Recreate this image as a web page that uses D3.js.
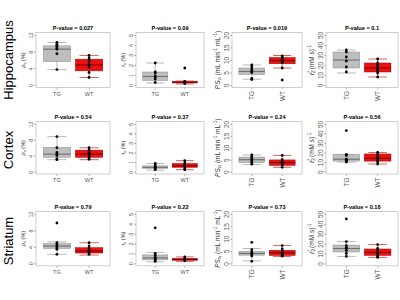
<!DOCTYPE html>
<html>
<head>
<meta charset="utf-8">
<script src="https://cdn.jsdelivr.net/npm/d3@7"></script>
<style>
  body { margin: 0; background: #fff; }
  text { font-family: "Liberation Sans", Arial, sans-serif; }
</style>
</head>
<body>
<svg id="chart"></svg>
<script>
let width = 400;
let height = 300;

const regions = ["Hippocampus", "Cortex", "Striatum"];
const groups = ["TG", "WT"];
const pValues = [
    ["0.027", "0.09", "0.019", "0.1"],
    ["0.54", "0.37", "0.24", "0.56"],
    ["0.79", "0.22", "0.73", "0.18"]
];
const yMax = [12, 5, 20, 50];
const yTicks = [[0, 4, 8, 12], [0, 1, 2, 3, 4, 5], [0, 5, 10, 15, 20], [0, 10, 20, 30, 40, 50]];

// box stats per panel: [lower whisker, q1, median, q3, upper whisker]
const tgBoxes = [
    [[3.7, 5.6, 8.6, 9.4, 10.2], [0.2, 0.45, 0.85, 1.3, 2.2], [2.3, 4.2, 5.4, 6.8, 8.0], [12, 17, 25, 33, 35]],
    [[3.0, 3.6, 4.4, 6.1, 8.8], [0.15, 0.35, 0.45, 0.6, 0.85], [3.0, 3.8, 5.0, 6.1, 7.0], [10, 11, 13, 18, 18]],
    [[2.2, 3.6, 4.2, 4.8, 5.2], [0.15, 0.35, 0.55, 0.85, 1.1], [1.0, 3.3, 4.0, 4.8, 6.0], [7, 11.5, 15, 18.5, 22]]
];
const wtBoxes = [
    [[1.8, 3.4, 4.8, 6.2, 7.1], [0.1, 0.2, 0.28, 0.35, 0.4], [6.8, 8.5, 9.8, 11.0, 11.8], [8, 13, 17, 22, 26]],
    [[3.0, 3.6, 4.4, 5.4, 6.0], [0.2, 0.45, 0.6, 0.85, 1.15], [1.8, 2.6, 3.8, 4.9, 6.8], [8, 11, 14, 18.5, 20]],
    [[2.0, 2.5, 3.0, 3.8, 5.0], [0.2, 0.3, 0.4, 0.5, 0.65], [2.8, 3.2, 4.3, 5.3, 7.2], [6, 8, 11, 14.5, 19]]
];
const tgPoints = [
    [[10.2, 9.8, 9.5, 9.2, 8.9, 8.6, 7.5, 3.7], [2.2, 1.3, 1.2, 0.9, 0.8, 0.6, 0.25], [8.0, 7.2, 6.2, 5.6, 5.0, 2.6, 2.2], [35, 33, 28, 24, 18, 13]],
    [[8.8, 6.0, 4.8, 4.3, 4.0, 3.2, 3.0], [0.85, 0.7, 0.5, 0.45, 0.4, 0.3, 0.2], [7.0, 6.3, 5.5, 5.0, 4.5, 3.8, 3.1], [43, 18, 17, 13, 12, 11, 10]],
    [[9.8, 5.0, 4.6, 4.2, 3.8, 3.4, 2.2], [3.6, 1.0, 0.8, 0.6, 0.5, 0.35, 0.2], [8.5, 5.5, 4.6, 4.1, 3.6, 3.0, 0.8], [45, 22, 18, 16, 15, 13, 10, 7]]
];
const wtPoints = [
    [[7.1, 6.5, 6.0, 5.5, 4.8, 4.2, 3.0, 1.8], [1.7, 0.35, 0.3, 0.25, 0.2, 0.15], [11.6, 11.0, 10.5, 10.0, 9.4, 9.0, 6.8, 2.0], [26, 22, 20, 18, 16, 14, 12, 8]],
    [[6.0, 5.4, 4.8, 4.4, 4.0, 3.5, 3.1], [1.15, 0.9, 0.7, 0.6, 0.5, 0.3, 0.2], [6.8, 5.0, 4.2, 3.8, 3.2, 2.8, 1.8], [20, 18, 16, 14, 12, 10, 8]],
    [[5.0, 4.2, 3.6, 3.0, 2.6, 2.2], [0.65, 0.5, 0.4, 0.35, 0.25], [7.2, 5.8, 5.0, 4.4, 3.9, 3.2, 2.9], [19, 15, 13, 11, 9, 7, 6]]
];

// layout of the panels
let colX = [[36, 110], [136, 204], [232, 302], [326, 398]];
let rowY = [[32.5, 87.5], [121.5, 174], [211.5, 265.8]];
let rowLabelY = [60, 150, 241];
let tickFont = [5.5, 5.5, 6.5, 6.5];

let svg = d3.select("#chart")
    .attr("width", width)
    .attr("height", height);

let fills = { TG: "#bebebe", WT: "#ec1010" };
let lines = { TG: "#8c8c8c", WT: "#b00000" };
let medians = { TG: "#6e6e6e", WT: "#7a0000" };

regions.forEach((region, r) => {
    svg.append("text")
        .attr("transform", `translate(13,${rowLabelY[r]}) rotate(-90)`)
        .attr("text-anchor", "middle")
        .attr("font-size", 13)
        .text(region);

    for (let c = 0; c < 4; c++) {
        drawPanel(r, c);
    }
});

function drawPanel(r, c) {
    let [x0, x1] = colX[c];
    let [y0, y1] = rowY[r];
    let x = d3.scalePoint().domain(groups).range([x0, x1]).padding(0.65);
    let pad = yMax[c] * 0.05;
    let y = d3.scaleLinear().domain([-pad, yMax[c] + pad]).range([y1, y0]);
    let g = svg.append("g");
    let bw = x.step() * 0.85;
    let fs = tickFont[c];

    g.append("rect")
        .attr("x", x0).attr("y", y0)
        .attr("width", x1 - x0).attr("height", y1 - y0)
        .attr("fill", "none")
        .attr("stroke", "#c4c4c4")
        .attr("stroke-width", 0.8);

    // y axis
    let yAxis = d3.axisLeft(y).tickValues(yTicks[c]).tickFormat(d3.format("d")).tickSize(2).tickPadding(2);
    let ax = g.append("g").attr("transform", `translate(${x0},0)`).call(yAxis);
    ax.select(".domain").remove();
    ax.selectAll("line").attr("stroke", "#888").attr("stroke-width", 0.6);
    ax.selectAll("text")
        .attr("font-size", fs)
        .attr("fill", "#555")
        .attr("text-anchor", "middle")
        .attr("transform", `translate(${-3 - fs * 0.4},0) rotate(-90)`)
        .attr("x", 0).attr("y", 0)
        .attr("dy", "0.35em");

    // x labels
    groups.forEach(gr => {
        g.append("line")
            .attr("x1", x(gr)).attr("x2", x(gr))
            .attr("y1", y1).attr("y2", y1 + 2)
            .attr("stroke", "#888").attr("stroke-width", 0.6);
        let t = g.append("text")
            .attr("font-size", fs)
            .attr("fill", "#555")
            .text(gr);
        if (c < 2) {
            t.attr("x", x(gr)).attr("y", y1 + 8).attr("text-anchor", "middle");
        } else {
            t.attr("transform", `translate(${x(gr) + fs * 0.36},${y1 + 3.5}) rotate(-90)`)
                .attr("text-anchor", "end");
        }
    });

    // title
    g.append("text")
        .attr("x", (x0 + x1) / 2).attr("y", y0 - 3)
        .attr("text-anchor", "middle")
        .attr("font-size", 5.6)
        .attr("font-weight", "bold")
        .text("P-value = " + pValues[r][c]);

    // y label
    let yl = g.append("text")
        .attr("transform", `translate(${x0 - 5 - fs * 1.1},${(y0 + y1) / 2}) rotate(-90)`)
        .attr("text-anchor", "middle")
        .attr("font-size", 5.5)
        .attr("fill", "#333");
    yLabel(yl, c);

    let boxes = { TG: tgBoxes[r][c], WT: wtBoxes[r][c] };
    let pts = { TG: tgPoints[r][c], WT: wtPoints[r][c] };

    groups.forEach(gr => {
        let [lo, q1, med, q3, hi] = boxes[gr];
        let cx = x(gr);
        // whisker + staples
        g.append("line")
            .attr("x1", cx).attr("x2", cx)
            .attr("y1", y(lo)).attr("y2", y(hi))
            .attr("stroke", lines[gr]).attr("stroke-width", 0.6);
        [lo, hi].forEach(v => {
            g.append("line")
                .attr("x1", cx - bw * 0.35).attr("x2", cx + bw * 0.35)
                .attr("y1", y(v)).attr("y2", y(v))
                .attr("stroke", lines[gr]).attr("stroke-width", 0.6);
        });
        g.append("rect")
            .attr("x", cx - bw / 2).attr("y", y(q3))
            .attr("width", bw).attr("height", Math.max(0.8, y(q1) - y(q3)))
            .attr("fill", fills[gr])
            .attr("stroke", lines[gr]).attr("stroke-width", 0.5);
        g.append("line")
            .attr("x1", cx - bw / 2).attr("x2", cx + bw / 2)
            .attr("y1", y(med)).attr("y2", y(med))
            .attr("stroke", medians[gr]).attr("stroke-width", 1.1);
        g.selectAll(null)
            .data(pts[gr])
            .join("circle")
            .attr("cx", cx)
            .attr("cy", d => y(d))
            .attr("r", 1.4)
            .attr("fill", "#000");
    });
}

function yLabel(t, c) {
    if (c === 0) {
        t.append("tspan").attr("font-style", "italic").text("ρ");
        t.append("tspan").attr("font-size", 4).attr("dy", 1.5).text("v");
        t.append("tspan").attr("dy", -1.5).text(" (%)");
    } else if (c === 1) {
        t.append("tspan").attr("font-style", "italic").text("τ");
        t.append("tspan").attr("font-size", 4).attr("dy", 1.5).text("v");
        t.append("tspan").attr("dy", -1.5).text(" (%)");
    } else if (c === 2) {
        t.attr("font-size", 6.5);
        t.append("tspan").attr("font-style", "italic").text("PS");
        t.append("tspan").attr("font-size", 4.6).attr("dy", 1.6).text("w");
        t.append("tspan").attr("dy", -1.6).text(" (mL min");
        t.append("tspan").attr("font-size", 4.6).attr("dy", -2.5).text("-1");
        t.append("tspan").attr("dy", 2.5).text(" mL");
        t.append("tspan").attr("font-size", 4.6).attr("dy", -2.5).text("-1");
        t.append("tspan").attr("dy", 2.5).text(")");
    } else {
        t.attr("font-size", 6.5);
        t.append("tspan").attr("font-style", "italic").text("r");
        t.append("tspan").attr("font-size", 4.6).attr("dy", 1.6).text("2");
        t.append("tspan").attr("font-size", 4.6).attr("dx", -2.5).attr("dy", -4.3).text("*");
        t.append("tspan").attr("dy", 2.7).text(" (mM s)");
        t.append("tspan").attr("font-size", 4.6).attr("dy", -2.5).text("-1");
    }
}
</script>
</body>
</html>
